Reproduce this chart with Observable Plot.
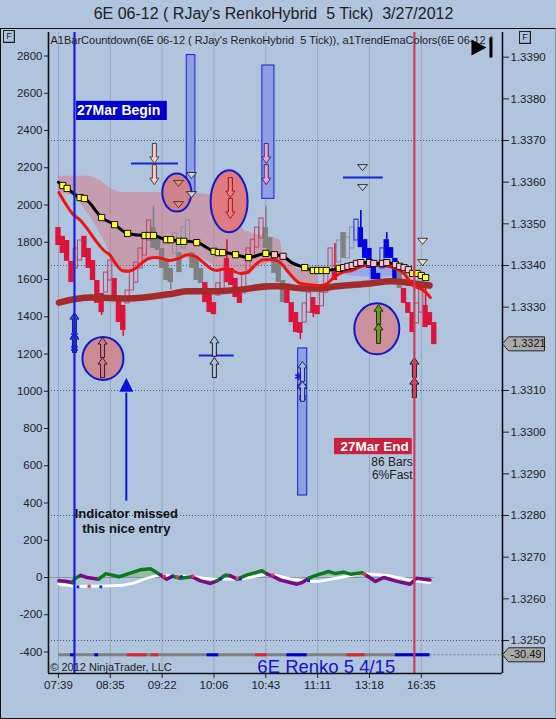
<!DOCTYPE html>
<html><head><meta charset="utf-8">
<script src="https://cdn.jsdelivr.net/npm/d3@7"></script>
<script src="https://cdn.jsdelivr.net/npm/@observablehq/plot@0.6"></script>
<style>
html,body{margin:0;padding:0;background:#b0c4de;width:556px;height:719px;overflow:hidden}
#wrap{position:relative;width:556px;height:719px;font-family:"Liberation Sans",Arial,sans-serif}
#wrap svg{position:absolute;left:0;top:0;background:transparent;font-family:"Liberation Sans",Arial,sans-serif}
.edge{position:absolute;left:0;top:28px;width:554px;height:689px;border:1px solid #111;border-right-color:#89a;}
.fbox{position:absolute;width:10px;height:11px;border:1px solid #222;font-size:9px;line-height:11px;text-align:center;color:#222;box-shadow:inset -1px -1px 0 #8899aa}
</style></head><body><div id="wrap"><div class="edge"></div>
<div class="fbox" style="left:3px;top:30px">F</div><div class="fbox" style="left:519px;top:31px">F</div></div>
<script>
// ---- Axis values
const leftTicks = [2800,2600,2400,2200,2000,1800,1600,1400,1200,1000,800,600,400,200,0,-200,-400];
const rightTicks = [1.339,1.338,1.337,1.336,1.335,1.334,1.333,1.331,1.33,1.329,1.328,1.327,1.326,1.325];
const dottedLevels = [1.337,1.334,1.331,1.328,1.325];
const timeLabels = ["07:39","08:35","09:22","10:06","10:43","11:11","13:18","16:35"];
const timeBars = [0,12,24,36,48,60,72,84];

// ---- Renko bars: kind d=down filled, u=up hollow, g=grey, h=grey hollow, b=blue, n=blue hollow
const barKind = ("dddd uu ddddd uu ddd uuuuuu ggggg h g hh ggg ddd uu dddd uuuuu ggggg dddd uu dd uuu d h g hh n bbbbb n bbb g ddd uu ddd").replace(/ /g,"").split("");
const barTop = [133491,133470,133460,133410,133441,133460,133470,133441,133412,133364,133333,133383,133412,133369,133316,133304,133340,133388,133407,133441,133477,133508,133491,133465,133441,133417,133393,133477,133431,133491,133508,133431,133417,133393,133359,133333,133311,133357,133388,133417,133393,133369,133347,133381,133441,133462,133491,133513,133491,133467,133429,133407,133364,133340,133311,133287,133263,133309,133335,133323,133304,133335,133388,133441,133388,133460,133479,133467,133491,133510,133491,133462,133441,133412,133381,133441,133462,133443,133417,133388,133345,133311,133287,133309,133345,133304,133287,133263];
const barBot = [133448,133429,133410,133359,133393,133412,133419,133393,133364,133309,133287,133335,133364,133323,133263,133244,133309,133340,133359,133393,133424,133460,133441,133436,133393,133364,133359,133429,133383,133441,133460,133393,133364,133357,133311,133287,133282,133328,133340,133359,133352,133323,133309,133333,133388,133417,133443,133465,133441,133424,133381,133359,133311,133309,133263,133239,133237,133263,133287,133285,133282,133302,133335,133388,133364,133407,133417,133417,133441,133460,133443,133417,133393,133366,133366,133393,133417,133417,133366,133345,133309,133285,133239,133261,133287,133251,133256,133210];
const wickBar = [10,15,22,26,30,39,48,56,59,64,70,76,85];
const wickHi  = [133333,133304,133542,133393,133510,133462,133542,133263,133323,133453,133532,133479,133345];
const wickLo  = [133280,133230,133491,133342,133508,133417,133491,133222,133275,133388,133491,133462,133304];

// ---- Black EMA with square markers: Y yellow, P pink, - no marker
const emaBar = [0,1,2,5,6,10,13,16,20,21,22,25,26,28,29,32,36,37,38,41,44,48,50,52,54,57,59,60,61,62,65,66,67,68,69,70,72,73,75,76,78,79,80,81,82,83,84,85];
const emaVal = [133600,133592,133585,133563,133561,133515,133498,133477,133472,133472,133472,133462,133462,133458,133458,133455,133434,133431,133431,133426,133419,133429,133426,133422,133407,133395,133388,133388,133388,133388,133393,133395,133398,133400,133405,133407,133407,133405,133405,133407,133402,133398,133395,133390,133381,133381,133376,133371];
const emaMark = "-YYYYYYYYYYYYYYYYYYYYYPP-YYYYYYPPPPPPPPPPPPPYYYY".split("");

// ---- Red EMA
const redBar = [0.1,1.6,3.2,5.1,6.6,8.6,10.5,12,13.2,14.7,16.3,17.8,19.4,20.9,22.5,24,25.5,27.9,29.8,31.7,33.6,35.2,36.7,38.7,40.2,42.1,43.7,45.6,47.5,49.8,51.4,52.9,54.5,56,58.3,60.6,62.2,63.7,65.6,67.9,71,74.5,77.6,79.9,82.2,84.6,86.1];
const redVal = [133575,133549,133525,133508,133489,133460,133436,133424,133405,133388,133386,133393,133407,133417,133419,133417,133412,133417,133426,133422,133407,133393,133388,133393,133388,133381,133383,133402,133414,133414,133407,133388,133369,133357,133354,133352,133357,133371,133383,133388,133400,133400,133395,133381,133352,133340,133323];

// ---- Brown EMA
const brownBar = [0.1,7.4,15.9,26.7,29.8,36,42.1,49,51.4,56.8,59.9,64.5,72.2,76.9,82.2,85.9];
const brownVal = [133311,133323,133321,133333,133338,133338,133342,133350,133350,133345,133345,133350,133357,133362,133357,133352];

// ---- Shaded band
const bandBar = [0,1,3.5,5,7.4,9.7,10.5,12,13.5,14.4,16,18,20,22,24,27,30,32.4,35,36.9,39.2,41,43,46,49.8,51.4,52,53.7,55.2,57,60];
const bandTop = [133614,133614,133614,133614,133614,133604,133597,133585,133578,133575,133575,133575,133575,133575,133575,133575,133573,133573,133570,133568,133544,133513,133484,133474,133467,133460,133417,133407,133393,133388,133383];
const bandBot = [133575,133573,133568,133551,133515,133477,133460,133429,133405,133393,133386,133393,133407,133417,133419,133417,133417,133422,133407,133390,133393,133388,133381,133393,133414,133407,133393,133374,133359,133354,133352];
const glowBar = [64,68,72,76,80];
const glowTop = [133393,133400,133405,133405,133393];
const glowBot = [133380,133375,133372,133372,133380];

// ---- Lower indicator (left axis units)
const macdBar = [0.1,1.6,3.2,3.9,5.1,6.6,9.3,11,14,16.3,18.9,21.3,23.6,25,26.5,28.2,30.9,32.9,35.2,36.7,38.7,39.8,41.4,43.7,47.1,48.3,49.5,51.4,55.2,56.4,57.9,59.1,62.5,64.1,66,67.6,70.3,71.4,73.4,75.3,78.4,81.4,82.9,86];
const macdVal = [-18,-20,-27,-4,11,0,-9,21,4,21,41,47,14,-9,7,-4,4,-18,-32,-18,13,9,-9,14,36,18,9,-14,-36,-27,-5,7,32,21,29,18,25,9,-21,0,-21,-36,-4,-14];
const macdTone = ("ppp gg pp gggggg pp gg ppp gg p ggg ppppp ggggggg pppppp").replace(/ /g,"").split("");
const whiteBar = [0.1,3.8,7.4,11.2,14.4,17.4,20.5,22.8,24.4,26.7,30.5,33.6,36.7,41.4,42.1,48.3,49.8,53.7,57.9,60.3,65.3,69.9,72.2,76.1,79.2,82.3,86];
const whiteVal = [-36,-48,-47,-45,-43,-30,-4,11,11,7,7,-4,-9,-9,-9,18,14,-7,-21,-21,0,21,18,11,-4,-18,-27];
const tickBlueBar = [4.5,9.8,26.3,28.4,37.5,42.1,57.9];
const tickBlueVal = [-50,-50,7,5,-9,-9,-18];
const tickRedBar = [7.1,24.5,27.5,31.1,41.4,49.6,70.8];
const tickRedVal = [-47,7,4,7,-4,14,18];
const stripLevel = -415;
const stripBlue = [[2.8,3.9],[8.4,9.3],[34.4,37.1],[52.9,57.6],[78,86]];
const stripRed = [[15.9,20.5],[21.5,23.2],[45.6,48.3],[66.8,71]];

// ---- Annotation positions (bar number, price)
const navyUp = [[3.7,1.33263],[3.7,1.33215]];
const pinkDown = [[22.2,1.33669],[22.2,1.33618]];
const redDown = [[39.8,1.33587],[39.8,1.33537]];
const plumDown = [[48.1,1.33669],[48.1,1.33618]];
const rosyUp = [[10.2,1.33203],[10.2,1.33155]];
const hollowUp = [[36.1,1.33206],[36.1,1.33155]];
const steelUp = [[56.5,1.33146],[56.5,1.33098]];
const greenUp = [[74.1,1.33282],[74.1,1.33237]];
const redUp = [[82.4,1.33155],[82.4,1.33107]];
const salmonTri = [[27.8,1.33597],[27.8,1.33546]];
const hollowTri = [[30.8,1.33616],[30.8,1.33570],[70.4,1.33635],[70.4,1.33587]];
const paleTri = [[84.3,1.33458],[84.3,1.33407]];
const stars = [[3.7,1.33232],[3.7,1.33201],[55.6,1.33134],[56,1.3311],[56.6,1.3311],[56.5,1.33083]];
const blueLevels = [[16.9,27.8,1.33645],[32.6,40.7,1.33184],[66,75.2,1.33611]];
const highlightBoxes = [[29.7,31.7,1.33905,1.33575],[47.2,50,1.3388,1.33560],[55.5,57.6,1.33201,1.32848]];
const ellipses = [
  {bar:10.3,price:1.33177,rx:20.5,ry:21.5,tint:"rgb(204,138,148)"},
  {bar:27.4,price:1.33575,rx:14.5,ry:19,tint:"rgb(208,130,140)"},
  {bar:39.5,price:1.33554,rx:18.5,ry:31,tint:"rgb(222,122,128)"},
  {bar:73.7,price:1.33248,rx:22.5,ry:25.5,tint:"rgb(205,143,155)"}
];
const beginBar = 3.7, endBar = 82.4;

// ---- helpers
const p5 = v => v/1e5;
const ind = v => 1.326512 + 4.47e-6*v;
const toInd = p => String(Math.round((p-1.326512)/4.47e-6));
const bars = barTop.map((t,i)=>({i,t:p5(t),b:p5(barBot[i]),k:barKind[i]||"d"}));
const fillOf = {d:"#dc143c",g:"#808080",b:"#0000e6"};
const strokeOf = {u:"#c2405f",h:"#8a8f98",n:"#2030d0"};
const wickKind = i => barKind[i]==="b"||barKind[i]==="n" ? "#0000e6" : (barKind[i]==="g"||barKind[i]==="h" ? "#808080" : "#dc143c");
const line = (xs,ys,f=p5)=>xs.map((x,i)=>({x,y:f(ys[i])}));

const arrowSym = dir => ({draw(c){const s=dir;c.moveTo(0,-10*s);c.lineTo(4.5,-3.5*s);c.lineTo(2,-3.5*s);c.lineTo(2,10*s);c.lineTo(-2,10*s);c.lineTo(-2,-3.5*s);c.lineTo(-4.5,-3.5*s);c.closePath();}});
const triDown = {draw(c){c.moveTo(-5,-3);c.lineTo(5,-3);c.lineTo(0,3);c.closePath();}};
const ellipseSym = (rx,ry)=>({draw(c){const k=.5523;c.moveTo(rx,0);c.bezierCurveTo(rx,k*ry,k*rx,ry,0,ry);c.bezierCurveTo(-k*rx,ry,-rx,k*ry,-rx,0);c.bezierCurveTo(-rx,-k*ry,-k*rx,-ry,0,-ry);c.bezierCurveTo(k*rx,-ry,rx,-k*ry,rx,0);c.closePath();}});
const tagSym = {draw(c){c.moveTo(0,0);c.lineTo(6,-7);c.lineTo(42,-7);c.lineTo(42,7);c.lineTo(6,7);c.closePath();}};
const playSym = {draw(c){c.moveTo(-9,-8);c.lineTo(6,0);c.lineTo(-9,8);c.closePath();c.moveTo(9,-10);c.lineTo(12,-10);c.lineTo(12,10);c.lineTo(9,10);c.closePath();}};
const bigTri = {draw(c){c.moveTo(0,-7);c.lineTo(7,7);c.lineTo(-7,7);c.closePath();}};
const pts = a=>a.map(([x,y])=>({x,y}));
const arrows = (a,dir,fill,stroke)=>Plot.dot(pts(a),{x:"x",y:"y",symbol:arrowSym(dir),fill,stroke,strokeWidth:.9});

// macd split into coloured runs that share end points
const macdRuns=[];let run=0;
macdBar.forEach((x,i)=>{const tone=macdTone[i];macdRuns.push({x,y:ind(macdVal[i]),run,tone});
  if(i<macdBar.length-1 && macdTone[i+1]!==tone){run++;macdRuns.push({x,y:ind(macdVal[i]),run,tone:macdTone[i+1]});}});
const macdPts = macdBar.map((x,i)=>({x,v:macdVal[i]}));

const chart = Plot.plot({
  width:556,height:719,marginLeft:48,marginRight:54,marginTop:32,marginBottom:46,
  style:{background:"transparent",fontFamily:'"Liberation Sans",Arial,sans-serif',overflow:"visible"},
  x:{domain:[-2.31,102.8],axis:null},
  y:{domain:[1.324208,1.339592],axis:null},
  marks:[
    Plot.ruleX(timeBars,{stroke:"#9aa6b8",strokeWidth:1}),
    Plot.ruleY(dottedLevels,{stroke:"#4d5560",strokeWidth:1,strokeDasharray:"1,2"}),
    Plot.ruleY([ind(0)],{x1:-2.31,x2:87,stroke:"#8b949e",strokeWidth:1}),
    Plot.ruleY([ind(stripLevel)],{x1:86,x2:102.8,stroke:"#7a7a7a",strokeWidth:1,strokeDasharray:"2,2"}),
    // highlight boxes
    Plot.rect(highlightBoxes,{x1:d=>d[0],x2:d=>d[1],y1:d=>d[2],y2:d=>d[3],fill:"#8f9fe6",stroke:"#1420c8",strokeWidth:1}),
    // band
    Plot.area(bandBar.map((x,i)=>({x,t:p5(bandTop[i]),b:p5(bandBot[i])})),{x1:"x",y1:"t",y2:"b",fill:"rgb(230,100,110)",fillOpacity:.4}),
    Plot.area(glowBar.map((x,i)=>({x,t:p5(glowTop[i]),b:p5(glowBot[i])})),{x1:"x",y1:"t",y2:"b",fill:"rgb(130,140,240)",fillOpacity:.5}),
    // ellipses
    ...ellipses.map(e=>Plot.dot([e],{x:"bar",y:"price",symbol:ellipseSym(e.rx,e.ry),fill:e.tint,stroke:"#1418c4",strokeWidth:2})),
    // bar wicks
    Plot.ruleX(wickBar.map((x,i)=>({x,h:p5(wickHi[i]),l:p5(wickLo[i]),c:wickKind(x)})),{x:"x",y1:"h",y2:"l",stroke:d=>d.c,strokeWidth:1.6}),
    // bar bodies
    Plot.rect(bars.filter(d=>fillOf[d.k]),{x1:d=>d.i-.62,x2:d=>d.i+.62,y1:"t",y2:"b",fill:d=>fillOf[d.k]}),
    Plot.rect(bars.filter(d=>strokeOf[d.k]),{x1:d=>d.i-.48,x2:d=>d.i+.48,y1:"t",y2:"b",fill:"none",stroke:d=>strokeOf[d.k],strokeWidth:1}),
    // EMAs
    Plot.line(line(brownBar,brownVal),{x:"x",y:"y",stroke:"#a52a2a",strokeWidth:6.5,curve:"monotone-x"}),
    Plot.line(line(redBar,redVal),{x:"x",y:"y",stroke:"#ee1414",strokeWidth:3,curve:"monotone-x"}),
    Plot.line(line(emaBar,emaVal),{x:"x",y:"y",stroke:"#000",strokeWidth:3,curve:"monotone-x"}),
    Plot.dot(line(emaBar,emaVal).map((d,i)=>({...d,m:emaMark[i]})).filter(d=>d.m!=="-"),{x:"x",y:"y",symbol:"square",r:3.5,fill:d=>d.m==="P"?"#ffc0cb":"#ffff33",stroke:"#111",strokeWidth:1}),
    // level lines
    Plot.ruleY(blueLevels,{y:d=>d[2],x1:d=>d[0],x2:d=>d[1],stroke:"#1428d0",strokeWidth:2}),
    // arrows and triangles
    arrows(navyUp,1,"#3a5ad0","#06106a"),
    Plot.dot(pts(stars),{x:"x",y:"y",symbol:"asterisk",r:3.6,stroke:"#1020e0",strokeWidth:1.8}),
    arrows(pinkDown,-1,"#ffc8c8","#333"),
    arrows(redDown,-1,"#f08080","#8a1010"),
    arrows(plumDown,-1,"#e0a8d8","#3a2060"),
    arrows(rosyUp,1,"#c08090","#400818"),
    arrows(hollowUp,1,"#b0c4de","#111"),
    arrows(steelUp,1,"#a8b8e0","#102060"),
    arrows(greenUp,1,"#6b9b1e","#102000"),
    arrows(redUp,1,"#c85a6e","#200"),
    Plot.dot(pts(salmonTri),{x:"x",y:"y",symbol:triDown,fill:"#e88a78",stroke:"#333",strokeWidth:.9}),
    Plot.dot(pts(hollowTri),{x:"x",y:"y",symbol:triDown,fill:"#c8d0e0",stroke:"#222",strokeWidth:.9}),
    Plot.dot(pts(paleTri),{x:"x",y:"y",symbol:triDown,fill:"#e4dccc",stroke:"#333",strokeWidth:.9}),
    // big blue arrow
    Plot.ruleX([15.7],{y1:ind(410),y2:ind(990),stroke:"#0a14d8",strokeWidth:2}),
    Plot.dot([{x:15.7,y:ind(1035)}],{x:"x",y:"y",symbol:bigTri,fill:"#0a14d8"}),
    // lower indicator
    Plot.areaY(macdPts.filter(d=>d.x>=14&&d.x<=24),{x:"x",y1:ind(0),y2:d=>ind(d.v),fill:"#8fbc8f",fillOpacity:.8}),
    Plot.areaY(macdPts.filter(d=>d.x>=57.9&&d.x<=71),{x:"x",y1:ind(6),y2:d=>ind(d.v),fill:"#8fbc8f",fillOpacity:.6}),
    Plot.line(line(whiteBar,whiteVal,ind),{x:"x",y:"y",stroke:"#fff",strokeWidth:2.8}),
    Plot.line(macdRuns,{x:"x",y:"y",z:"run",stroke:d=>d.tone==="g"?"#0c7a1c":"#7a0a82",strokeWidth:3.5,curve:"linear"}),
    Plot.dot(line(tickBlueBar,tickBlueVal,ind),{x:"x",y:"y",symbol:"square",r:1.6,fill:"#1020d8"}),
    Plot.dot(line(tickRedBar,tickRedVal,ind),{x:"x",y:"y",symbol:"square",r:1.8,fill:"#e83a50"}),
    // bottom strip
    Plot.ruleY([ind(stripLevel)],{x1:0,x2:86,stroke:"#808080",strokeWidth:3}),
    Plot.ruleY(stripBlue,{y:()=>ind(stripLevel),x1:d=>d[0],x2:d=>d[1],stroke:"#0000c8",strokeWidth:3}),
    Plot.ruleY(stripRed,{y:()=>ind(stripLevel),x1:d=>d[0],x2:d=>d[1],stroke:"#d8282c",strokeWidth:3}),
    // begin / end lines
    Plot.ruleX([beginBar],{stroke:"#1a1ae6",strokeWidth:2.2}),
    Plot.ruleX([endBar],{stroke:"#d03c60",strokeWidth:2.2}),
    // frame and axes
    Plot.ruleX([-2.31],{stroke:"#111",strokeWidth:1.6}),
    Plot.ruleX([102.8],{stroke:"#111",strokeWidth:1.6}),
    Plot.ruleY([1.324208],{stroke:"#111",strokeWidth:1.6}),
    Plot.axisY(leftTicks.map(ind),{anchor:"left",tickSize:4,tickPadding:2,fontSize:11.5,color:"#222",label:null,tickFormat:toInd}),
    Plot.axisY(rightTicks,{anchor:"right",tickSize:6,tickPadding:2,fontSize:11.5,color:"#222",label:null,tickFormat:d3.format(".4f")}),
    Plot.axisX(timeBars,{anchor:"bottom",tickSize:5,tickPadding:2,fontSize:11.5,color:"#222",label:null,tickFormat:d=>timeLabels[timeBars.indexOf(d)]}),
    // labels
    Plot.text(["6E 06-12 ( RJay's RenkoHybrid  5 Tick)  3/27/2012"],{frameAnchor:"top",dy:-19,dx:-2,fontSize:16,fill:"#222",lineAnchor:"middle",text:d=>d}),
    Plot.text(["A1BarCountdown(6E 06-12 ( RJay's RenkoHybrid  5 Tick)), a1TrendEmaColors(6E 06-12 ("],{frameAnchor:"top-left",dx:2,dy:4,fontSize:11,fill:"#222",lineAnchor:"top",text:d=>d}),
    Plot.rect([[4.2,25.2,1.33794,1.33748]],{x1:d=>d[0],x2:d=>d[1],y1:d=>d[2],y2:d=>d[3],fill:"#0000c8"}),
    Plot.text(["27Mar Begin"],{x:4.3,y:1.33771,textAnchor:"start",fontSize:14,fontWeight:"bold",fill:"#fff",text:d=>d}),
    Plot.rect([[63.9,81.9,1.32985,1.32946]],{x1:d=>d[0],x2:d=>d[1],y1:d=>d[2],y2:d=>d[3],fill:"#c8203f"}),
    Plot.text(["27Mar End"],{x:73.2,y:1.32966,fontSize:13.5,fontWeight:"bold",fill:"#fff",text:d=>d}),
    Plot.text(["86 Bars"],{x:82,y:1.32927,textAnchor:"end",fontSize:12,fill:"#222",text:d=>d}),
    Plot.text(["6%Fast"],{x:82,y:1.32896,textAnchor:"end",fontSize:12,fill:"#222",text:d=>d}),
    Plot.text(["Indicator missed"],{x:15.7,y:1.32805,fontSize:13,fontWeight:"bold",fill:"#111",text:d=>d}),
    Plot.text(["this nice entry"],{x:15.7,y:1.32769,fontSize:13,fontWeight:"bold",fill:"#111",text:d=>d}),
    Plot.text(["© 2012 NinjaTrader, LLC"],{x:-1.9,y:1.32436,textAnchor:"start",lineAnchor:"middle",fontSize:11,fill:"#222",text:d=>d}),
    Plot.text(["6E Renko 5 4/15"],{x:62,y:1.32436,lineAnchor:"middle",fontSize:18.5,fill:"#1414c8",text:d=>d}),
    // icons and price flags
    Plot.dot([{x:97.7,y:1.33923}],{x:"x",y:"y",symbol:playSym,fill:"#000"}),
    Plot.dot([{x:102.8,y:1.33212},{x:102.8,y:ind(stripLevel)}],{x:"x",y:"y",symbol:tagSym,fill:"#a9a9a9",stroke:"#222",strokeWidth:1}),
    Plot.text(["1.3321"],{x:105,y:1.33212,textAnchor:"start",fontSize:11,fill:"#111",text:d=>d}),
    Plot.text(["-30.49"],{x:104.6,y:ind(stripLevel),textAnchor:"start",fontSize:11,fill:"#111",text:d=>d})
  ]
});
document.getElementById("wrap").appendChild(chart);
</script></body></html>
